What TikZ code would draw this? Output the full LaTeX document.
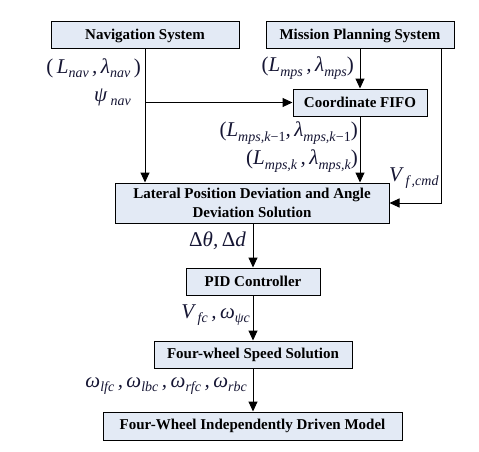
\documentclass[tikz,border=0pt]{standalone}
\usepackage{fontspec}
\setmainfont{Liberation Serif}
\usetikzlibrary{arrows.meta,calc,positioning}
\definecolor{boxfill}{RGB}{227,234,245}
\definecolor{labelink}{RGB}{22,22,52}
\newcommand{\idx}[1]{\raisebox{-0.45ex}{\fontsize{14}{14}\selectfont #1}}
\newcommand{\pl}{\textup{(}}
\newcommand{\pr}{\textup{)}}

\begin{document}
\begin{tikzpicture}[x=1pt,y=-1pt,
    blk/.style={draw, line width=1pt, fill=boxfill, inner sep=0pt, align=center,
      font=\fontsize{15}{19}\selectfont\bfseries},
    arr/.style={line width=1pt, -{Triangle[length=10pt,width=9pt]}},
    lbl/.style={inner sep=0pt, text=labelink, font=\fontsize{21}{23}\selectfont\itshape}]
		%%%%% BLOCKS %%%%%
		\useasboundingbox (0,0) rectangle (479,452);
		
		\node[blk, minimum width=188pt, minimum height=27pt] (nav) at (145,35.5) {Navigation System};
		\node[blk, minimum width=188pt, minimum height=27pt] (mps) at (360,35.5) {Mission Planning System};
		\node[blk, minimum width=134pt, minimum height=27pt] (fifo) at (360,102.5) {Coordinate FIFO};
		\node[blk, minimum width=274pt, minimum height=40pt] (lat) at (252,203) {Lateral Position Deviation and Angle\\Deviation Solution};
		\node[blk, minimum width=134pt, minimum height=27pt] (pid) at (253,281.5) {PID Controller};
		\node[blk, minimum width=198pt, minimum height=27pt] (fws) at (253,354.5) {Four-wheel Speed Solution};
		\node[blk, minimum width=299pt, minimum height=28pt] (fwm) at (252.5,426) {Four-Wheel Independently Driven Model};
		
		%%%%% CONNECTORS %%%%%
		\coordinate (vtap) at ($(mps.south east)+(-13,0)$);
		\draw[arr] (nav.south) -- (nav.south |- lat.north);
		\draw[arr] (nav.south |- fifo.west) -- (fifo.west);
		\draw[arr] (mps.south) -- (fifo.north);
		\draw[arr] (fifo.south) -- (fifo.south |- lat.north);
		\draw[arr] (vtap) |- (lat.east);
		\draw[arr] (lat.south -| pid.north) -- (pid.north);
		\draw[arr] (pid.south) -- (fws.north);
		\draw[arr] (fws.south) -- (fws.south |- fwm.north);
		
		%%%%% SIGNALS %%%%%
		\node[lbl, anchor=east] (lnav) at (141,68) {\pl\,L\idx{nav}\,,\,λ\idx{nav}\,\pr};
		\node[lbl, anchor=east] (psinav) at (131,97) {ψ\,\idx{nav}};
		\node[lbl, anchor=east] (lmps) at (354,68) {\pl L\idx{mps}\,,\,λ\idx{mps}\pr};
		\node[lbl, anchor=east] (lmpsa) at (358,133) {\pl L\idx{mps,k\textup{−1}},\,λ\idx{mps,k\textup{−1}}\pr};
		\node[lbl, anchor=east] (lmpsb) at (358,161) {\pl L\idx{mps,k}\,,\,λ\idx{mps,k}\pr};
		\node[lbl, anchor=west] (vcmd) at (389,178) {V\,\idx{f\,,cmd}};
		\node[lbl, anchor=east] (dth) at (246,241) {\textup{Δ}θ,\,\textup{Δ}d};
		\node[lbl, anchor=east] (vfc) at (250,315) {V\,\idx{fc}\,,\,ω\idx{ψc}};
		\node[lbl, anchor=east] (wall) at (247,386) {ω\idx{lfc}\,,\,ω\idx{lbc}\,,\,ω\idx{rfc}\,,\,ω\idx{rbc}};
		
		%%%%% END %%%%%
\end{tikzpicture}
\end{document}
